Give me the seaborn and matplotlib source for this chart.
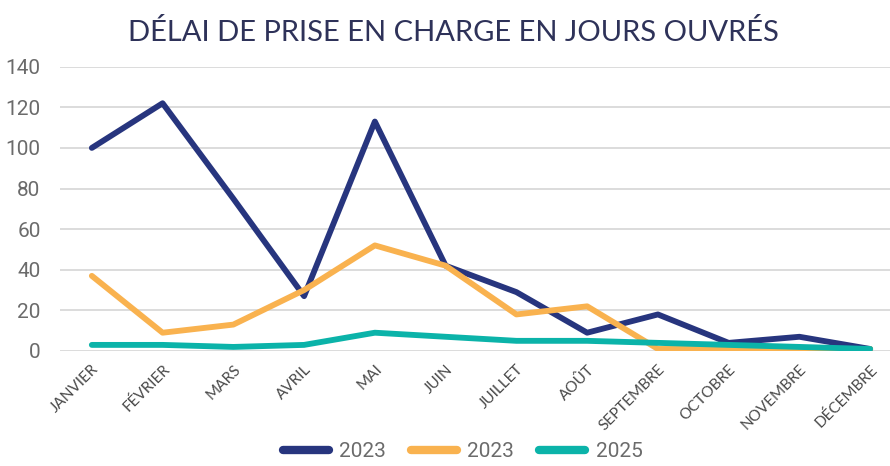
import pandas as pd
import seaborn as sns
import matplotlib.pyplot as plt

mois = ["JANVIER", "FÉVRIER", "MARS", "AVRIL", "MAI", "JUIN", "JUILLET",
        "AOÛT", "SEPTEMBRE", "OCTOBRE", "NOVEMBRE", "DÉCEMBRE"]
serie_a = [100, 122, 75, 27, 113, 42, 29, 9, 18, 4, 7, 1]
serie_b = [37, 9, 13, 30, 52, 42, 18, 22, 1, 1, 1, 1]
serie_c = [3, 3, 2, 3, 9, 7, 5, 5, 4, 3, 2, 1]
labels = ["2023", "2023", "2025"]
colors = ["#27357E", "#F9B24F", "#0BB3A9"]

sns.set_style("white")
plt.rcParams["font.family"] = ["Roboto", "DejaVu Sans"]

fig = plt.figure(figsize=(8.9, 4.66), dpi=100)
ax = fig.add_axes([0.0674, 0.2468, 0.9326, 0.6101])

x = list(range(len(mois)))
for vals, lab, col in zip([serie_a, serie_b, serie_c], labels, colors):
    df = pd.DataFrame({"x": x, "y": vals})
    sns.lineplot(data=df, x="x", y="y", ax=ax, color=col, linewidth=4.2,
                 label=lab, solid_capstyle="round", solid_joinstyle="round")

ax.set_ylim(0, 140)
ax.set_yticks(range(0, 141, 20))
ax.set_xlim(-0.45, 11.28)
ax.set_xticks(x)
ax.set_xticklabels(mois, rotation=45, ha="right", rotation_mode="anchor",
                   fontsize=11, color="#4A4A4A", family=["Lato", "DejaVu Sans"])
ax.tick_params(axis="y", labelsize=15, labelcolor="#6B6B6B", length=0, pad=14)
ax.tick_params(axis="x", length=0, pad=8)
ax.set_xlabel("")
ax.set_ylabel("")
ax.grid(axis="y", color="#D9D9D9", linewidth=1.3)
ax.set_axisbelow(True)
for s in ax.spines.values():
    s.set_visible(False)

fig.text(0.51, 0.93, "DÉLAI DE PRISE EN CHARGE EN JOURS OUVRÉS",
         ha="center", va="center", fontsize=21, color="#2E3259",
         family=["Lato", "DejaVu Sans"])

leg = ax.legend(loc="lower center", bbox_to_anchor=(0.52, -0.012), bbox_transform=fig.transFigure,
                ncol=3, frameon=False, fontsize=15, handlelength=2.2,
                columnspacing=1.2, handletextpad=0.5, borderaxespad=0.1)
for t in leg.get_texts():
    t.set_color("#6B6B6B")
for h in leg.get_lines():
    h.set_linewidth(6)

fig.savefig("out.png", dpi=100)
